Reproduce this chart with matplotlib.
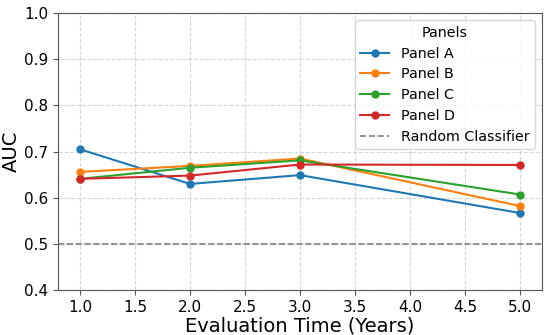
import matplotlib
matplotlib.use("Agg")
import matplotlib.pyplot as plt

# czas ewaluacji (lata)
lata = [1.0, 2.0, 3.0, 5.0]

# wartosci AUC dla kazdego panelu
panel_a = [0.705, 0.630, 0.649, 0.567]
panel_b = [0.656, 0.669, 0.685, 0.582]
panel_c = [0.641, 0.665, 0.681, 0.607]
panel_d = [0.641, 0.648, 0.672, 0.671]

losowy = 0.5

fig, ax = plt.subplots(figsize=(5.5, 3.35), dpi=100)

ax.plot(lata, panel_a, "o-", color="#1f77b4", label="Panel A", markersize=5, linewidth=1.5)
ax.plot(lata, panel_b, "o-", color="#ff7f0e", label="Panel B", markersize=5, linewidth=1.5)
ax.plot(lata, panel_c, "o-", color="#2ca02c", label="Panel C", markersize=5, linewidth=1.5)
ax.plot(lata, panel_d, "o-", color="#d62728", label="Panel D", markersize=5, linewidth=1.5)
ax.axhline(losowy, color="gray", linestyle="--", linewidth=1.2, label="Random Classifier")

ax.set_ylim(0.4, 1.0)
ax.set_xlabel("Evaluation Time (Years)", fontsize=14, labelpad=1)
ax.set_ylabel("AUC", fontsize=14, labelpad=2)
ax.tick_params(labelsize=11, color="#555555")
for s in ax.spines.values():
    s.set_color("#555555")
ax.grid(True, linestyle="--", alpha=0.5)
ax.legend(title="Panels", loc="upper right", fontsize=10.3, title_fontsize=10.3,
          labelspacing=0.47)

fig.subplots_adjust(left=0.1055, right=0.9855, top=0.961, bottom=0.134)
fig.savefig("out.png")
